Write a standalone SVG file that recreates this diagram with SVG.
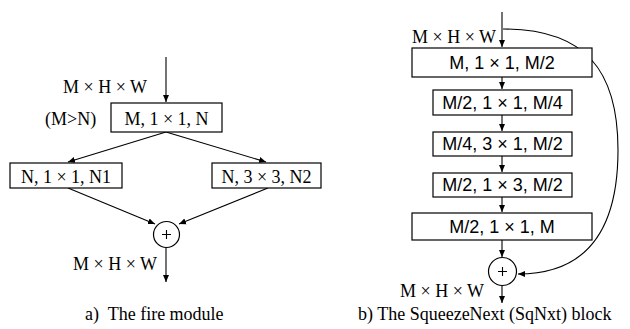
<svg xmlns="http://www.w3.org/2000/svg" width="630" height="329" viewBox="0 0 630 329">
  <style>
    .box { fill: #ffffff; stroke: #000000; stroke-width: 1.2; }
    .edge { fill: none; stroke: #000000; stroke-width: 1.1; }
    .serif { font-family: "Liberation Serif", "Times New Roman", serif; font-size: 18px; fill: #000000; }
    .sans { font-family: "Liberation Sans", Arial, sans-serif; font-size: 18px; fill: #000000; }
    .cap { font-family: "Liberation Serif", "Times New Roman", serif; font-size: 18px; fill: #000000; white-space: pre; }
  </style>
  <defs>
    <marker id="arrow" markerWidth="8" markerHeight="8" refX="7" refY="4" orient="auto" markerUnits="userSpaceOnUse">
      <path d="M0,1 L7,4 L0,7 Z" fill="#000000"/>
    </marker>
  </defs>

  <!-- connectors -->
  <g id="connectors">
    <!-- fire module -->
    <line class="edge" x1="166" y1="57" x2="166" y2="102" marker-end="url(#arrow)"/>
    <line class="edge" x1="166" y1="132" x2="68" y2="162" marker-end="url(#arrow)"/>
    <line class="edge" x1="166" y1="132" x2="266" y2="162" marker-end="url(#arrow)"/>
    <line class="edge" x1="68" y1="188" x2="155" y2="224" marker-end="url(#arrow)"/>
    <line class="edge" x1="268" y1="188" x2="179" y2="224" marker-end="url(#arrow)"/>
    <line class="edge" x1="166" y1="247" x2="166" y2="282" marker-end="url(#arrow)"/>
    <!-- SqNxt block -->
    <line class="edge" x1="502" y1="12" x2="502" y2="47" marker-end="url(#arrow)"/>
    <line class="edge" x1="502" y1="77" x2="502" y2="89" marker-end="url(#arrow)"/>
    <line class="edge" x1="502" y1="115" x2="502" y2="131" marker-end="url(#arrow)"/>
    <line class="edge" x1="502" y1="156" x2="502" y2="172" marker-end="url(#arrow)"/>
    <line class="edge" x1="502" y1="197" x2="502" y2="212" marker-end="url(#arrow)"/>
    <line class="edge" x1="502" y1="240" x2="502" y2="257" marker-end="url(#arrow)"/>
    <line class="edge" x1="502" y1="285" x2="502" y2="303" marker-end="url(#arrow)"/>
    <path class="edge" d="M503,29 C585,29 618,70 618,150 C618,225 590,274 518,274" marker-end="url(#arrow)"/>
  </g>

  <!-- fire module nodes -->
  <g id="fire-squeeze">
    <rect class="box" x="111" y="103" width="111" height="29"/>
    <text class="serif" x="166.5" y="125" text-anchor="middle">M, 1 × 1, N</text>
  </g>
  <g id="fire-expand1">
    <rect class="box" x="10" y="163" width="112" height="25"/>
    <text class="serif" x="66" y="183" text-anchor="middle">N, 1 × 1, N1</text>
  </g>
  <g id="fire-expand3">
    <rect class="box" x="212" y="163" width="109" height="25"/>
    <text class="serif" x="266.5" y="183" text-anchor="middle">N, 3 × 3, N2</text>
  </g>
  <g id="fire-sum">
    <circle class="box" cx="166.5" cy="234.5" r="13"/>
    <path class="edge" d="M162,234.5 H171 M166.5,230 V239" stroke-width="0.8"/>
  </g>
  <g id="fire-labels">
    <text class="serif" x="63" y="93">M × H × W</text>
    <text class="serif" x="45" y="125">(M&gt;N)</text>
    <text class="serif" x="73" y="270">M × H × W</text>
    <text class="cap" x="85" y="320">a)  The fire module</text>
  </g>

  <!-- SqNxt block nodes -->
  <g id="sq-conv1">
    <rect class="box" x="412" y="48" width="180" height="29"/>
    <text class="sans" x="502" y="69" text-anchor="middle">M, 1 × 1, M/2</text>
  </g>
  <g id="sq-conv2">
    <rect class="box" x="433" y="90" width="139" height="25"/>
    <text class="sans" x="502.5" y="109" text-anchor="middle">M/2, 1 × 1, M/4</text>
  </g>
  <g id="sq-conv3">
    <rect class="box" x="433" y="132" width="139" height="24"/>
    <text class="sans" x="502.5" y="150" text-anchor="middle">M/4, 3 × 1, M/2</text>
  </g>
  <g id="sq-conv4">
    <rect class="box" x="433" y="173" width="139" height="24"/>
    <text class="sans" x="502.5" y="191" text-anchor="middle">M/2, 1 × 3, M/2</text>
  </g>
  <g id="sq-conv5">
    <rect class="box" x="412" y="213" width="180" height="27"/>
    <text class="sans" x="502" y="233" text-anchor="middle">M/2, 1 × 1, M</text>
  </g>
  <g id="sq-sum">
    <circle class="box" cx="502.5" cy="271.5" r="14"/>
    <path class="edge" d="M498,271.5 H507 M502.5,267 V276" stroke-width="0.8"/>
  </g>
  <g id="sq-labels">
    <text class="serif" x="412" y="43">M × H × W</text>
    <text class="serif" x="400" y="297">M × H × W</text>
    <text class="cap" x="358" y="320">b) The SqueezeNext (SqNxt) block</text>
  </g>
</svg>
